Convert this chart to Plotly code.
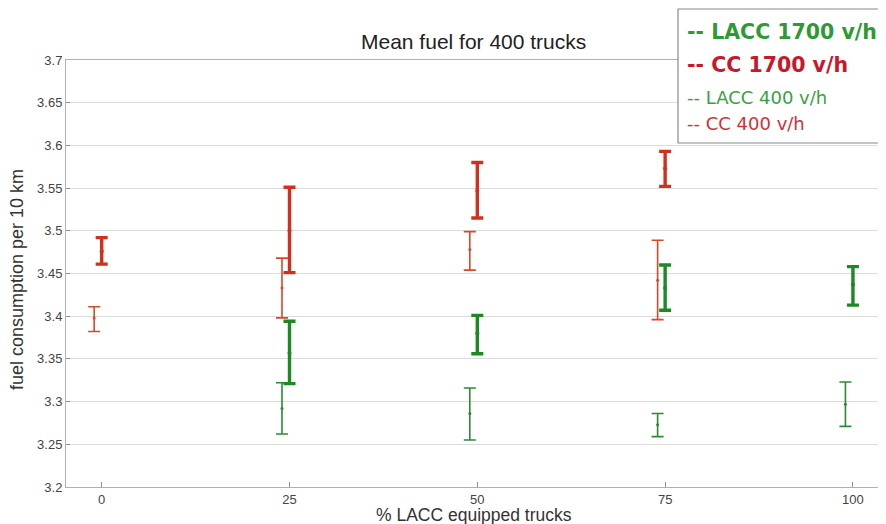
import plotly.graph_objects as go

# ---- data ----
pct_cc = [0, 25, 50, 75]
pct_lacc = [25, 50, 75, 100]

cc1700_mean = [3.476, 3.500, 3.547, 3.573]
cc1700_lo = [3.461, 3.451, 3.515, 3.552]
cc1700_hi = [3.492, 3.551, 3.580, 3.593]

cc400_mean = [3.398, 3.433, 3.478, 3.442]
cc400_lo = [3.382, 3.398, 3.454, 3.396]
cc400_hi = [3.411, 3.468, 3.499, 3.489]

lacc1700_mean = [3.357, 3.380, 3.433, 3.437]
lacc1700_lo = [3.321, 3.356, 3.407, 3.413]
lacc1700_hi = [3.394, 3.401, 3.460, 3.458]

lacc400_mean = [3.292, 3.286, 3.273, 3.297]
lacc400_lo = [3.262, 3.255, 3.259, 3.271]
lacc400_hi = [3.322, 3.316, 3.286, 3.323]

x_ticks = [0, 25, 50, 75, 100]
y_ticks = [3.2, 3.25, 3.3, 3.35, 3.4, 3.45, 3.5, 3.55, 3.6, 3.65, 3.7]
y_tick_labels = ["3.2", "3.25", "3.3", "3.35", "3.4", "3.45", "3.5", "3.55", "3.6", "3.65", "3.7"]

legend_items = [
    ("-- LACC 1700 v/h", "#2e9a35", True),
    ("-- CC 1700 v/h", "#c8182a", True),
    ("-- LACC 400 v/h", "#3aa043", False),
    ("-- CC 400 v/h", "#d0303a", False),
]

# ---- figure ----
fig = go.Figure()


def add_series(xs, mean, lo, hi, color, thick, offset):
    fig.add_trace(go.Scatter(
        x=[v + offset for v in xs],
        y=mean,
        mode="markers",
        marker=dict(color=color, size=4 if thick else 3),
        error_y=dict(
            type="data", symmetric=False,
            array=[h - m for h, m in zip(hi, mean)],
            arrayminus=[m - l for m, l in zip(mean, lo)],
            color=color,
            thickness=3.4 if thick else 1.6,
            width=6,
        ),
        showlegend=False,
        hoverinfo="skip",
    ))


add_series(pct_cc, cc400_mean, cc400_lo, cc400_hi, "#d9472b", False, -1)
add_series(pct_lacc, lacc400_mean, lacc400_lo, lacc400_hi, "#2a8a35", False, -1)
add_series(pct_cc, cc1700_mean, cc1700_lo, cc1700_hi, "#d42e1c", True, 0)
add_series(pct_lacc, lacc1700_mean, lacc1700_lo, lacc1700_hi, "#1c8a22", True, 0)

# page has an 8px body margin; the figure is sized so the plot area lands
# where the reference has it (page pixels: left 66, top 60, bottom 487, right 886)
OFF = 8
W, H = 878, 516
ml, mr, mt, mb = 66 - OFF, 0, 60 - OFF, (H + OFF) - 487
pw, ph = W - ml - mr, H - mt - mb


def px(xp):
    return (xp - OFF - ml) / pw


def py(yp):
    return (mt + ph - (yp - OFF)) / ph


# legend box
fig.add_shape(type="rect", xref="paper", yref="paper",
              x0=px(678), x1=px(884), y0=py(143), y1=py(9),
              line=dict(color="#8a8a8a", width=1.2), fillcolor="white", layer="above")

leg_y = [32, 65, 97, 123]
for (txt, col, bold), yy in zip(legend_items, leg_y):
    fig.add_annotation(
        x=px(685), y=py(yy), xref="paper", yref="paper",
        xanchor="left", yanchor="middle", showarrow=False,
        text=f"<b>{txt}</b>" if bold else txt,
        font=dict(family="DejaVu Sans", size=20.5 if bold else 18, color=col),
    )

fig.add_annotation(
    x=px(473), y=py(42), xref="paper", yref="paper",
    xanchor="center", yanchor="middle", showarrow=False,
    text="Mean fuel for 400 trucks",
    font=dict(family="Liberation Sans", size=21, color="#222222"),
)
fig.add_annotation(
    x=px(474), y=py(515), xref="paper", yref="paper",
    xanchor="center", yanchor="middle", showarrow=False,
    text="% LACC equipped trucks",
    font=dict(family="Liberation Sans", size=17.5, color="#333333"),
)
fig.add_annotation(
    x=px(17), y=py(280), xref="paper", yref="paper",
    xanchor="center", yanchor="middle", showarrow=False, textangle=-90,
    text="fuel consumption per 10 km",
    font=dict(family="Liberation Sans", size=18, color="#333333"),
)

fig.update_layout(
    width=W, height=H,
    margin=dict(l=ml, r=mr, t=mt, b=mb, autoexpand=False),
    paper_bgcolor="white", plot_bgcolor="white",
    font=dict(family="Liberation Sans", size=13, color="#444444"),
)

fig.update_xaxes(
    range=[-4.75, 104.4], automargin=False,
    tickvals=x_ticks,
    ticktext=[str(v) for v in x_ticks],
    showgrid=False, zeroline=False,
    showline=True, linecolor="#b0b0b0", linewidth=1, mirror=True,
    ticks="inside", ticklen=5, tickcolor="#909090",
    tickfont=dict(size=13, color="#444444"),
)
fig.update_yaxes(
    range=[3.2, 3.7], automargin=False,
    tickvals=y_ticks, ticktext=y_tick_labels,
    showgrid=True, gridcolor="#dcdcdc", gridwidth=1, zeroline=False,
    showline=True, linecolor="#b0b0b0", linewidth=1,
    ticks="inside", ticklen=4, tickcolor="#909090",
    tickfont=dict(size=13, color="#444444"),
)

fig.write_html("out.html")
